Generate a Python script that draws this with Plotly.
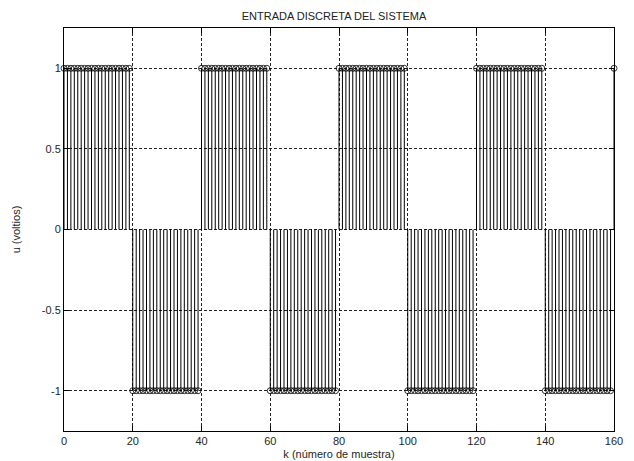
import plotly.graph_objects as go

k = list(range(161))
u = [
    1, 1, 1, 1, 1, 1, 1, 1, 1, 1, 1, 1, 1, 1, 1, 1, 1, 1, 1, 1,
    -1, -1, -1, -1, -1, -1, -1, -1, -1, -1, -1, -1, -1, -1, -1, -1, -1, -1, -1, -1,
    1, 1, 1, 1, 1, 1, 1, 1, 1, 1, 1, 1, 1, 1, 1, 1, 1, 1, 1, 1,
    -1, -1, -1, -1, -1, -1, -1, -1, -1, -1, -1, -1, -1, -1, -1, -1, -1, -1, -1, -1,
    1, 1, 1, 1, 1, 1, 1, 1, 1, 1, 1, 1, 1, 1, 1, 1, 1, 1, 1, 1,
    -1, -1, -1, -1, -1, -1, -1, -1, -1, -1, -1, -1, -1, -1, -1, -1, -1, -1, -1, -1,
    1, 1, 1, 1, 1, 1, 1, 1, 1, 1, 1, 1, 1, 1, 1, 1, 1, 1, 1, 1,
    -1, -1, -1, -1, -1, -1, -1, -1, -1, -1, -1, -1, -1, -1, -1, -1, -1, -1, -1, -1,
    1,
]
x_ticks = [0, 20, 40, 60, 80, 100, 120, 140, 160]
y_ticks = [-1, -0.5, 0, 0.5, 1]
y_tick_labels = ["-1", "-0.5", "0", "0.5", "1"]

title_text = "ENTRADA DISCRETA DEL SISTEMA"
x_label = "k (número de muestra)"
y_label = "u (voltios)"

sx, sy = [], []
for kk, uu in zip(k, u):
    sx += [kk, kk, None]
    sy += [0, uu, None]

fig = go.Figure()
fig.add_trace(go.Scatter(x=sx, y=sy, mode="lines",
                         line=dict(color="black", width=1), hoverinfo="skip",
                         showlegend=False))
fig.add_trace(go.Scatter(x=k, y=u, mode="markers",
                         marker=dict(symbol="circle-open", size=6, color="black",
                                     line=dict(width=0.8, color="black")),
                         cliponaxis=False, showlegend=False))

font = dict(family="Liberation Sans, Arial, sans-serif", size=11, color="#262626")
fig.update_layout(
    width=634, height=461,
    margin=dict(l=64, r=20, t=28, b=30, autoexpand=False),
    paper_bgcolor="white", plot_bgcolor="white",
    font=font,
    title=dict(text=title_text, x=334 / 634, xanchor="center", y=1 - 16 / 461,
               yanchor="middle", automargin=False,
               font=dict(size=11, color="#222222")),
)
axis_common = dict(showline=True, linecolor="black", linewidth=1, mirror="ticks",
                   ticks="inside", ticklen=5, tickcolor="black",
                   showgrid=True, gridcolor="#222222", gridwidth=1, griddash="3px,2px",
                   zeroline=False, tickfont=font, automargin=False)
fig.update_xaxes(range=[0, 160], tickvals=x_ticks,
                 title=dict(text=x_label, standoff=4, font=font), **axis_common)
fig.update_yaxes(range=[-1.25, 1.25], tickvals=y_ticks, ticktext=y_tick_labels,
                 title=dict(text=y_label, standoff=18, font=font), **axis_common)

fig.write_html("out.html", config={"displayModeBar": False},
               post_script="document.body.style.margin='0';document.body.style.overflow='hidden';")
